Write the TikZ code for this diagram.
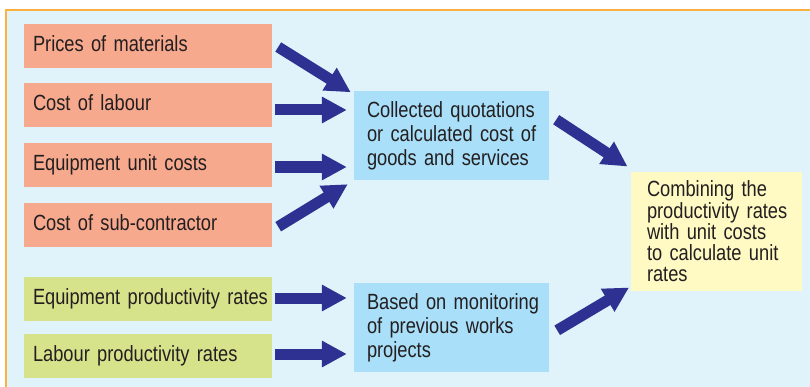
\documentclass[tikz,border=0pt]{standalone}
\usepackage{fontspec}
\setmainfont{Liberation Sans}[FakeStretch=0.83]
\usetikzlibrary{arrows.meta}

\definecolor{panelbg}{HTML}{E0F3FA}
\definecolor{panelrim}{HTML}{FBB040}
\definecolor{costbox}{HTML}{F7A98E}
\definecolor{ratebox}{HTML}{D6E38B}
\definecolor{midbox}{HTML}{A9DFF8}
\definecolor{endbox}{HTML}{FFF9C4}
\definecolor{arrowblue}{HTML}{2E3192}
\definecolor{inktext}{HTML}{231F20}

% one unbreakable line of box text
\newcommand{\boxline}[1]{\mbox{#1}}

\tikzset{
  basebox/.style={rectangle, inner ysep=0pt, text=inktext, align=left,
    font=\fontsize{22}{24}\selectfont},
  inputbox/.style={basebox, minimum width=248, minimum height=44,
    text width=230, inner xsep=9, text height=16, text depth=4.6},
  costinput/.style={inputbox, fill=costbox},
  rateinput/.style={inputbox, fill=ratebox},
  midstage/.style={basebox, fill=midbox, minimum width=195, minimum height=89,
    text width=169, inner xsep=13},
  finalstage/.style={basebox, fill=endbox, minimum width=171, minimum height=119,
    text width=139, inner xsep=16, font=\fontsize{22}{21.3}\selectfont},
  bigarrow/.style={draw=arrowblue, line width=11,
    -{Triangle[length=25, width=25]}, arrowblue}
}

\begin{document}
\begin{tikzpicture}[x=1pt, y=1pt]
  \useasboundingbox (0,0) rectangle (810,386);
  \clip (0,0) rectangle (810,386);

  % panel with its orange rim (runs off the right and bottom edges)
  \draw[fill=panelbg, draw=panelrim, line width=2.5] (6,376) rectangle (830,-20);

  % cost inputs
  \node[costinput] (m1) at (148,340) {\boxline{Prices of materials}};
  \node[costinput] (m2) at (148,281) {\boxline{Cost of labour}};
  \node[costinput] (m3) at (148,221) {\boxline{Equipment unit costs}};
  \node[costinput] (m4) at (148,161) {\boxline{Cost of sub-contractor}};

  % productivity inputs
  \node[rateinput] (g1) at (148,87) {\boxline{Equipment productivity rates}};
  \node[rateinput] (g2) at (148,30) {\boxline{Labour productivity rates}};

  % intermediate stages
  \node[midstage] (q1) at (451.5,250.5)
    {\boxline{Collected quotations}\\\boxline{or calculated cost of}\\\boxline{goods and services}};
  \node[midstage] (q2) at (451.5,58.5)
    {\boxline{Based on monitoring}\\\boxline{of previous works}\\\boxline{projects}};

  % final stage
  \node[finalstage] (fin) at (716.5,154.5)
    {\boxline{Combining the}\\\boxline{productivity rates}\\\boxline{with unit costs}\\\boxline{to calculate unit}\\\boxline{rates}};

  % connectors
  \draw[bigarrow] ([shift={(6,-1)}]m1.east) -- ([shift={(-3,-1.5)}]q1.north west);
  \draw[bigarrow] ([shift={(3,-5)}]m2.east) -- ([shift={(-7,25.5)}]q1.west);
  \draw[bigarrow] ([shift={(3,-2)}]m3.east) -- ([shift={(-7,-31.5)}]q1.west);
  \draw[bigarrow] ([shift={(6,-1.7)}]m4.east) -- ([shift={(-6,-4)}]q1.south west);
  \draw[bigarrow] ([shift={(3,1)}]g1.east) -- ([shift={(-7,29.5)}]q2.west);
  \draw[bigarrow] ([shift={(3,2)}]g2.east) -- ([shift={(-7,-26.5)}]q2.west);
  \draw[bigarrow] ([shift={(7,15.8)}]q1.east) -- ([shift={(-3.3,5.3)}]fin.north west);
  \draw[bigarrow] ([shift={(8,-2.8)}]q2.east) -- ([shift={(-1.7,3.7)}]fin.south west);
\end{tikzpicture}
\end{document}
